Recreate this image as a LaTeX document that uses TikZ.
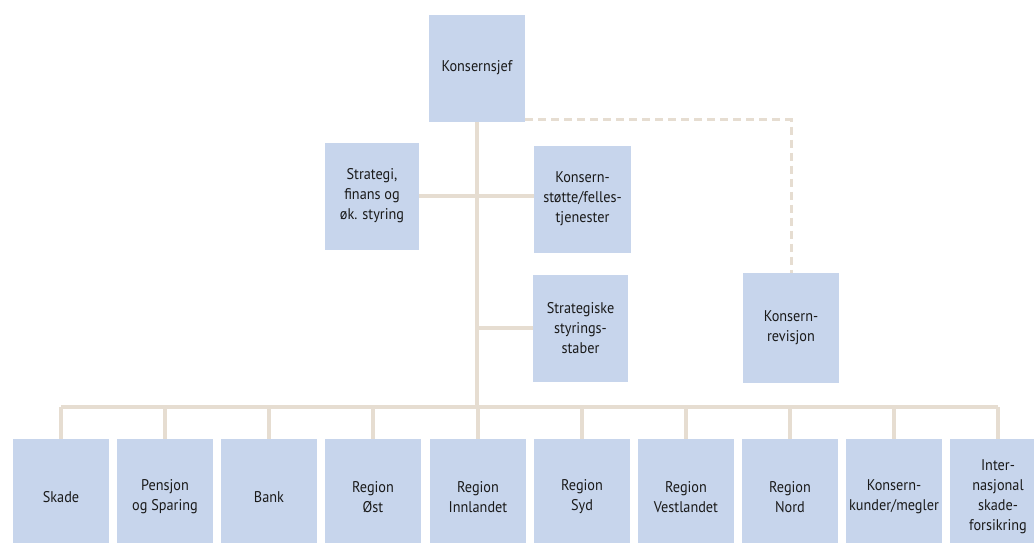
\documentclass[tikz,border=0pt]{standalone}
\usepackage{fontspec}
\setmainfont[FakeStretch=0.92]{PT Sans}
\definecolor{boxblue}{HTML}{C7D5EC}
\definecolor{linebeige}{HTML}{E6DDD1}
\definecolor{txt}{HTML}{1A1A1A}
\tikzset{
  orgbox/.style={rectangle, fill=boxblue, inner sep=0pt, align=center, text=txt,
    font=\fontsize{15.5}{20}\selectfont},
  topbox/.style={orgbox, minimum width=95pt, minimum height=107pt},
  botbox/.style={orgbox, minimum width=96pt, minimum height=116pt},
  conn/.style={draw=linebeige, line width=4pt},
  dashconn/.style={draw=linebeige, line width=3pt, dash pattern=on 8pt off 5pt}
}
\begin{document}
\begin{tikzpicture}[x=1pt,y=-1pt]
\clip (0,0) rectangle (1034,542);
\fill[white] (0,0) rectangle (1034,542);
% top part
\node[topbox, minimum width=96pt] (sjef) at (477,68) {Konsernsjef};
\node[topbox, minimum width=94pt] (strat) at (372,196) {Strategi,\\finans og\\øk. styring};
\node[topbox, minimum width=97pt] (stotte) at (582.5,199) {Konsern-\\støtte/felles-\\tjenester};
\node[topbox] (staber) at (580.5,328) {Strategiske\\styrings-\\staber};
\node[topbox, minimum width=96pt, minimum height=110pt] (revisjon) at (791,328) {Konsern-\\revisjon};
% bottom row
\node[botbox] (b1) at (61,497) {Skade};
\node[botbox] (b2) at (165,497) {Pensjon\\og Sparing};
\node[botbox] (b3) at (269,497) {Bank};
\node[botbox] (b4) at (373,497) {Region\\Øst};
\node[botbox] (b5) at (478,497) {Region\\Innlandet};
\node[botbox] (b6) at (582,497) {Region\\Syd};
\node[botbox] (b7) at (686,497) {Region\\Vestlandet};
\node[botbox] (b8) at (790,497) {Region\\Nord};
\node[botbox] (b9) at (894,497) {Konsern-\\kunder/megler};
\node[botbox] (b10) at (998,497) {Inter-\\nasjonal\\skade-\\forsikring};
\coordinate (bus) at (477,407);
% connectors
\draw[conn] (sjef.south) -- (bus);
\draw[conn] (strat.east) -- (strat.east -| stotte.west);
\draw[conn] (staber.west) -- (staber.west -| sjef.south);
\draw[conn] (b1.north |- bus) -- (b10.north |- bus);
\foreach \i in {1,...,10} { \draw[conn] (b\i.north) -- (b\i.north |- bus); }
\draw[dashconn] ([yshift=2pt]sjef.south east) -| (revisjon.north);
\end{tikzpicture}
\end{document}
